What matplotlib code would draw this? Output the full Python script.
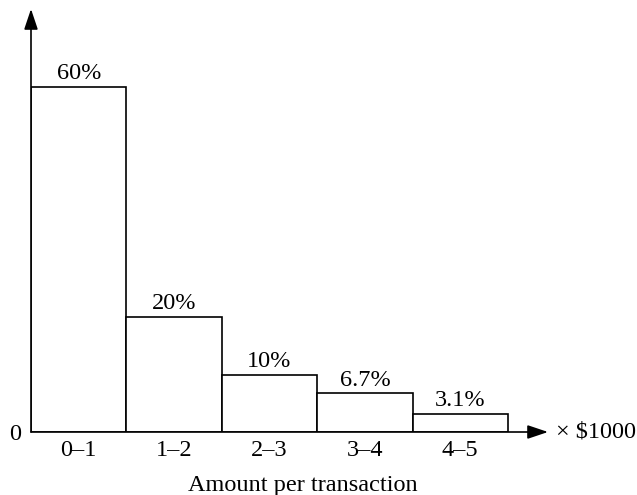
import matplotlib.pyplot as plt

ranges = ['0–1', '1–2', '2–3', '3–4', '4–5']
shares = [60, 20, 10, 6.7, 3.1]
share_labels = ['60%', '20%', '10%', '6.7%', '3.1%']

plt.rcParams['font.family'] = ['Liberation Serif', 'DejaVu Serif']
FS = 17.5

fig = plt.figure(figsize=(6.37, 4.95), dpi=100)
# axes box: x from pixel 31 to 548, y from 432 up to 9
ax = fig.add_axes([31 / 637, 63 / 495, 517 / 637, 423 / 495])
ax.set_xlim(0, 517 / 95.4)
ax.set_ylim(0, 423 / 5.75)

lefts = list(range(len(ranges)))
ax.bar(lefts, shares, width=1, align='edge', facecolor='white',
       edgecolor='black', linewidth=1.2, zorder=2)
for x, h, lab in zip(lefts, shares, share_labels):
    ax.text(x + 0.5, h + 0.5, lab, ha='center', va='bottom', fontsize=FS)

for s in ax.spines.values():
    s.set_visible(False)
ax.set_xticks([x + 0.5 for x in lefts])
ax.set_xticklabels(ranges, fontsize=FS)
ax.tick_params(axis='x', length=0, pad=6)
ax.set_yticks([0])
ax.set_yticklabels(['0'], fontsize=FS)
ax.tick_params(axis='y', length=0, pad=7)

arrow = dict(arrowstyle='-|>,head_length=1.25,head_width=0.42', color='black', lw=1.2,
             shrinkA=0, shrinkB=0, mutation_scale=10)
ax.annotate('', xy=(0, 1), xytext=(0, 0), xycoords='axes fraction', arrowprops=arrow)
ax.annotate('', xy=(1, 0), xytext=(0, 0), xycoords='axes fraction', arrowprops=arrow)
ax.text(1.015, 0, '× $1000', transform=ax.transAxes, ha='left', va='center', fontsize=FS)
ax.set_xlabel('Amount per transaction', fontsize=FS)
ax.xaxis.set_label_coords(272 / 517, -43 / 423)

fig.savefig('out.png', dpi=100)
